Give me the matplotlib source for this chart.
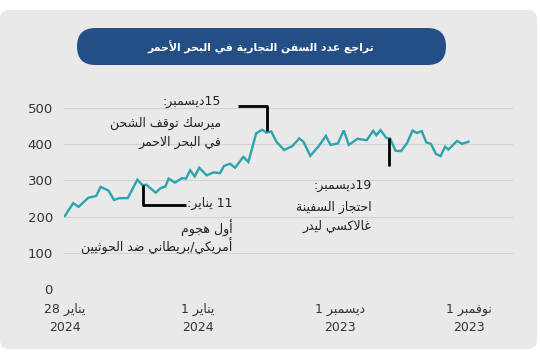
import re
import matplotlib
matplotlib.use("Agg")
import matplotlib.pyplot as plt
from matplotlib.patches import FancyBboxPatch

# ---- data: days since 1 Nov 2023 and number of ships ----
days = [0, 1.4, 2.5, 4.4, 5.1, 6.1, 7.1, 8.2, 9.2, 10.2,
        11.3, 12.2, 13.4, 14.7, 15.9, 17.1, 17.9, 19.2, 20.1, 20.8,
        22.2, 24.2, 26.1, 27.2, 28.5, 30.1, 31.1, 32.7, 34.5, 36.0,
        36.9, 38.4, 40.2, 41.9, 43.0, 44.1, 45.0, 46.3, 48.0, 49.1,
        50.9, 52.0, 53.3, 54.2, 55.6, 57.1, 58.7, 59.7, 60.7, 61.6,
        62.5, 64.0, 65.4, 66.1, 67.1, 68.2, 69.6, 70.2, 71.1, 72.2,
        74.3, 76.1, 77.3, 78.5, 80.2, 81.2, 82.9, 85.0, 86.2, 88.0]
ships = [407, 401, 409, 385, 393, 367, 373, 401, 405, 436,
         431, 438, 403, 381, 382, 416, 417, 439, 425, 437,
         411, 415, 398, 438, 402, 398, 423, 394, 368, 407,
         416, 395, 384, 407, 435, 432, 440, 430, 351, 365,
         335, 346, 340, 320, 322, 314, 335, 311, 328, 305,
         306, 294, 305, 283, 279, 266, 281, 288, 287, 302,
         251, 251, 246, 272, 282, 257, 252, 227, 237, 202]

title = "تراجع عدد السفن التجارية في البحر الأحمر"
xtick_pos = [0, 28, 59, 88]
xtick_labels = ["نوفمبر 1\n2023", "ديسمبر 1\n2023", "يناير 1\n2024", "يناير 28\n2024"]
yticks = [0, 100, 200, 300, 400, 500]

# annotations: leader line points (day, value), text right edge (day), line heights, text
notes = [
    ([(44.0, 437), (44.0, 506), (50.2, 506)], 53.9, [519, 457, 404],
     ["15ديسمبر:", "ميرسك توقف الشحن", "في البحر الاحمر"]),
    ([(71.0, 287), (71.0, 232), (61.5, 232)], 51.5, [236, 167, 118],
     ["11 يناير:", "أول هجوم", "أمريكي/بريطاني ضد الحوثيين"]),
    ([(17.3, 417), (17.3, 340)], 21.1, [285, 224, 174],
     ["19ديسمبر:", "احتجاز السفينة", "غالاكسي ليدر"]),
]

# ---- minimal arabic shaping (matplotlib has no text layout for it) ----
DUAL = {'ئ': 0xFE89, 'ب': 0xFE8F, 'ت': 0xFE95, 'ث': 0xFE99, 'ج': 0xFE9D,
        'ح': 0xFEA1, 'خ': 0xFEA5, 'س': 0xFEB1, 'ش': 0xFEB5, 'ص': 0xFEB9,
        'ض': 0xFEBD, 'ط': 0xFEC1, 'ظ': 0xFEC5, 'ع': 0xFEC9, 'غ': 0xFECD,
        'ف': 0xFED1, 'ق': 0xFED5, 'ك': 0xFED9, 'ل': 0xFEDD, 'م': 0xFEE1,
        'ن': 0xFEE5, 'ه': 0xFEE9, 'ي': 0xFEF1}
RIGHT = {'آ': 0xFE81, 'أ': 0xFE83, 'ؤ': 0xFE85, 'إ': 0xFE87, 'ا': 0xFE8D,
         'ة': 0xFE93, 'د': 0xFEA9, 'ذ': 0xFEAB, 'ر': 0xFEAD, 'ز': 0xFEAF,
         'و': 0xFEED, 'ى': 0xFEEF}
LAMALEF = {'آ': 0xFEF5, 'أ': 0xFEF7, 'إ': 0xFEF9, 'ا': 0xFEFB}


def shape_line(s):
    items = []
    i = 0
    while i < len(s):
        c = s[i]
        if c == 'ل' and i + 1 < len(s) and s[i + 1] in LAMALEF:
            items.append(('R', LAMALEF[s[i + 1]]))
            i += 2
            continue
        if c in DUAL:
            items.append(('D', DUAL[c]))
        elif c in RIGHT:
            items.append(('R', RIGHT[c]))
        else:
            items.append((None, c))
        i += 1
    out = []
    for k, (t, v) in enumerate(items):
        if t is None:
            out.append(v)
            continue
        prev = items[k - 1][0] if k > 0 else None
        nxt = items[k + 1][0] if k + 1 < len(items) else None
        jp = prev == 'D'
        jn = t == 'D' and nxt in ('D', 'R')
        off = 3 if (jp and jn) else 1 if jp else 2 if jn else 0
        out.append(chr(v + off))
    tokens = re.findall(r'[0-9A-Za-z]+|.', ''.join(out))
    return ''.join(reversed(tokens))


def ar(s):
    return "\n".join(shape_line(l) for l in s.split("\n"))


plt.rcParams['font.family'] = ['DejaVu Sans']

fig = plt.figure(figsize=(5.4, 3.6), dpi=100)
fig.patch.set_facecolor("white")

# background panel + title pill (pixel coords)
bg = fig.add_axes([0, 0, 1, 1])
bg.set_xlim(0, 540)
bg.set_ylim(360, 0)
bg.axis("off")
bg.add_patch(FancyBboxPatch((0, 10), 537, 339, boxstyle="round,pad=0,rounding_size=9",
                            fc="#e9e9e9", ec="none"))
bg.add_patch(FancyBboxPatch((77, 28), 369, 37, boxstyle="round,pad=0,rounding_size=18.5",
                            fc="#234e86", ec="none"))
bg.text(261, 47, ar(title), color="white", fontsize=7.8, fontweight="bold",
        ha="center", va="center")

ax = fig.add_axes([64 / 540, 1 - 289 / 360, 449 / 540, 181 / 360])
ax.set_facecolor("none")
ax.plot(days, ships, color="#2ba4ae", lw=1.7, solid_joinstyle="miter", zorder=3)
ax.set_xlim(88.2, -9.7)
ax.set_ylim(0, 500)

ax.set_yticks(yticks)
ax.set_yticklabels([str(v) for v in yticks], fontsize=9.5, color="#333333")
ax.set_xticks(xtick_pos)
ax.set_xticklabels([ar(t) for t in xtick_labels], fontsize=9, color="#333333",
                   linespacing=1.5)
ax.tick_params(length=0, axis="y", pad=8)
ax.tick_params(length=0, axis="x", pad=10)
ax.grid(axis="y", color="#d2d2d2", lw=0.8)
ax.grid(axis="x", visible=False)
for s in ax.spines.values():
    s.set_visible(False)

for pts, tx, ys, lines in notes:
    ax.plot([p[0] for p in pts], [p[1] for p in pts], color="black", lw=2,
            clip_on=False, zorder=4, solid_capstyle="butt")
    for ty, line in zip(ys, lines):
        ax.text(tx, ty, ar(line), ha="right", va="center", fontsize=9,
                color="#222222", clip_on=False)

fig.savefig("out.png", dpi=100, facecolor="white")
